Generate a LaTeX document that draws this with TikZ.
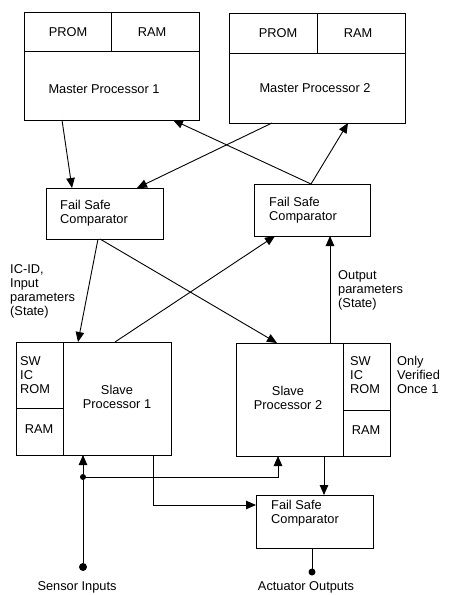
\documentclass[tikz,border=0pt]{standalone}
\usepackage{fontspec}
\setmainfont{Liberation Sans}
\usetikzlibrary{arrows.meta}
\begin{document}
\begin{tikzpicture}[x=1pt,y=-1pt,
  box/.style={draw, line width=1pt, inner sep=0pt, outer sep=0pt, anchor=north west},
  lbl/.style={inner sep=0pt, font=\fontsize{12.8}{14}\selectfont},
  mlbl/.style={lbl, align=left, anchor=north west},
  conn/.style={line width=0.9pt, -{Triangle[length=10pt,width=8.5pt]}},
  wire/.style={line width=0.9pt},
  div/.style={line width=1pt},
  dotn/.style={circle, fill, inner sep=0pt, outer sep=0pt}]
\useasboundingbox (0,0) rectangle (451,595);

% Master processors
\node[box, minimum width=175pt, minimum height=108pt] (m1) at (24,12) {};
\draw[div] ([yshift=-39pt]m1.north west) -- ([yshift=-39pt]m1.north east);
\draw[div] ([xshift=87pt]m1.north west) -- ([xshift=87pt,yshift=-39pt]m1.north west);
\node[lbl] (m1prom) at (68,32) {PROM};
\node[lbl] (m1ram) at (152,32) {RAM};
\node[lbl] (m1txt) at (104,89) {Master Processor 1};

\node[box, minimum width=176pt, minimum height=110pt] (m2) at (229,13) {};
\draw[div] ([yshift=-40pt]m2.north west) -- ([yshift=-40pt]m2.north east);
\draw[div] ([xshift=88pt]m2.north west) -- ([xshift=88pt,yshift=-40pt]m2.north west);
\node[lbl] (m2prom) at (278,33) {PROM};
\node[lbl] (m2ram) at (358,33) {RAM};
\node[lbl] (m2txt) at (315,88) {Master Processor 2};

% Fail safe comparators
\node[box, minimum width=117pt, minimum height=51pt] (f1) at (46,188) {};
\node[mlbl] (f1txt) at (60,200) {Fail Safe\\Comparator};
\node[box, minimum width=116pt, minimum height=52pt] (f2) at (254,184) {};
\node[mlbl] (f2txt) at (269,197) {Fail Safe\\Comparator};
\node[box, minimum width=117pt, minimum height=53pt] (f3) at (256,495) {};
\node[mlbl] (f3txt) at (271,500) {Fail Safe\\Comparator};

% Slave processors
\node[box, minimum width=155pt, minimum height=113pt] (s1) at (16,342) {};
\draw[div] ([xshift=47pt]s1.north west) -- ([xshift=47pt]s1.south west);
\draw[div] ([yshift=-66pt]s1.north west) -- ([xshift=47pt,yshift=-66pt]s1.north west);
\node[mlbl] (s1rom) at (20,356) {SW\\IC\\ROM};
\node[lbl] (s1ram) at (39,429) {RAM};
\node[lbl, align=center] (s1txt) at (117,397) {Slave\\Processor 1};

\node[box, minimum width=154pt, minimum height=113pt] (s2) at (236,343) {};
\draw[div] ([xshift=107pt]s2.north west) -- ([xshift=107pt]s2.south west);
\draw[div] ([xshift=107pt,yshift=-67pt]s2.north west) -- ([yshift=-67pt]s2.north east);
\node[mlbl] (s2rom) at (350,356) {SW\\IC\\ROM};
\node[lbl] (s2ram) at (366,430) {RAM};
\node[lbl, align=center] (s2txt) at (288,398) {Slave\\Processor 2};
\node[mlbl] (once) at (397,356) {Only\\Verified\\Once 1};

% Labels
\node[mlbl] (icid) at (10,264) {IC-ID,\\Input\\parameters\\(State)};
\node[mlbl] (outp) at (338,270) {Output\\parameters\\(State)};

% Connectors between masters and comparators
\draw[conn] ([xshift=38pt]m1.south west) -- ([xshift=26pt]f1.north west);
\draw[conn] ([xshift=43pt]m2.south west) -- ([xshift=91pt]f1.north west);
\draw[conn] ([xshift=57pt]f2.north west) -- ([xshift=149pt]m1.south west);
\draw[conn] ([xshift=57pt]f2.north west) -- ([xshift=119pt]m2.south west);

% Connectors between comparators and slaves
\draw[conn] ([xshift=52pt]f1.south west) -- ([xshift=62pt]s1.north west);
\draw[conn] ([xshift=54pt]f1.south west) -- ([xshift=41pt]s2.north west);
\draw[conn] ([xshift=99pt]s1.north west) -- ([xshift=21pt]f2.south west);
\draw[conn] ([xshift=94pt]s2.north west) -- ([xshift=76pt]f2.south west);

% Sensor inputs and actuator outputs
\node[dotn, minimum size=8pt] (sensor) at (83,567) {};
\node[dotn, minimum size=6pt] (junc) at (83,477) {};
\node[dotn, minimum size=7pt] (act) at (312,572) {};
\node[lbl] (sensortxt) at (77,587) {Sensor Inputs};
\node[lbl] (acttxt) at (306,587) {Actuator Outputs};

\draw[wire] (sensor) -- (junc);
\draw[conn] (junc) -- ([xshift=67pt]s1.south west);
\draw[conn] (junc.center) -| ([xshift=42pt]s2.south west);
\draw[conn] ([xshift=137pt]s1.south west) |- ([yshift=-10pt]f3.north west);
\draw[conn] ([xshift=88pt]s2.south west) -- ([xshift=68pt]f3.north west);
\draw[wire] ([xshift=56pt]f3.south west) -- (act);
\end{tikzpicture}
\end{document}
